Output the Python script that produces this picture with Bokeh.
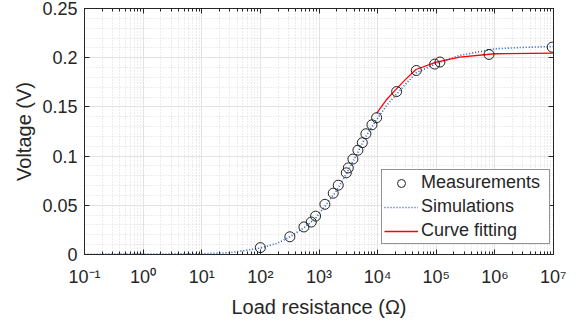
from bokeh.plotting import figure
from bokeh.models import FixedTicker, LogAxis, LinearAxis, Legend, LegendItem
from bokeh.embed import file_html
from bokeh.resources import INLINE

# Measurements
meas_R = [100, 318, 553, 738, 875, 1260, 1750, 2130, 2920, 3160, 3790, 4610,
          5480, 6310, 8000, 9620, 21100, 45600, 94000, 115600, 794000, 9.5e6]
meas_V = [0.007, 0.018, 0.028, 0.033, 0.039, 0.051, 0.0623, 0.0704, 0.083, 0.088,
          0.097, 0.106, 0.1136, 0.1227, 0.1318, 0.139, 0.1656, 0.187, 0.1935,
          0.1956, 0.2033, 0.2107]

# Simulations
sim_R = [0.1, 1, 10, 30, 60, 100, 200, 320, 550, 875, 1260, 2000, 3000, 4600,
         6300, 9600, 14000, 21000, 45000, 1e5, 2.5e5, 1e6, 3e6, 1e7]
sim_V = [0.0003, 0.0004, 0.0008, 0.0018, 0.0045, 0.0065, 0.0117, 0.018, 0.027,
         0.037, 0.049, 0.065, 0.083, 0.104, 0.12, 0.137, 0.151, 0.163, 0.1845,
         0.194, 0.2023, 0.209, 0.2105, 0.2114]

# Curve fitting
fit_R = [9600, 14000, 20000, 30000, 45000, 1e5, 2.5e5, 1e6, 1e7]
fit_V = [0.1433, 0.157, 0.167, 0.178, 0.188, 0.1956, 0.2006, 0.204, 0.2047]

x_ticks = [1e-1, 1e0, 1e1, 1e2, 1e3, 1e4, 1e5, 1e6, 1e7]
x_tick_labels = ["10\u207b\u00b9", "10\u2070", "10\u00b9", "10\u00b2", "10\u00b3",
                 "10\u2074", "10\u2075", "10\u2076", "10\u2077"]
y_ticks = [0, 0.05, 0.1, 0.15, 0.2, 0.25]
y_tick_labels = ["0", "0.05", "0.1", "0.15", "0.2", "0.25"]

TXT = "#262626"
FONT = "Liberation Sans"

x_minor = []
for k in range(-1, 7):
    for m in range(2, 10):
        x_minor.append(m * 10.0 ** k)
y_minor = [i * 0.01 for i in range(0, 26)]

p = figure(width=566, height=320, x_axis_type="log", x_range=(0.1, 1e7),
           y_range=(0, 0.25), output_backend="svg", toolbar_location=None,
           min_border_left=84, min_border_right=13, min_border_top=8,
           min_border_bottom=65)
p.background_fill_color = "white"
p.outline_line_color = TXT
p.outline_line_width = 1

xt = FixedTicker(ticks=x_ticks, minor_ticks=x_minor)
yt = FixedTicker(ticks=y_ticks, minor_ticks=y_minor)
p.xaxis.ticker = xt
p.yaxis.ticker = yt
p.xaxis.major_label_overrides = {t: l for t, l in zip(x_ticks, x_tick_labels)}
p.yaxis.major_label_overrides = {t: l for t, l in zip(y_ticks, y_tick_labels)}

for ax in [p.xaxis[0], p.yaxis[0]]:
    ax.axis_line_color = TXT
    ax.major_tick_line_color = TXT
    ax.minor_tick_line_color = TXT
    ax.major_tick_in = 5
    ax.major_tick_out = 0
    ax.minor_tick_in = 3
    ax.minor_tick_out = 0
    ax.major_label_text_font = FONT
    ax.major_label_text_font_size = "18px"
    ax.major_label_text_color = TXT
    ax.axis_label_text_font = FONT
    ax.axis_label_text_font_size = "20px"
    ax.axis_label_text_color = TXT
    ax.axis_label_text_font_style = "normal"
p.yaxis.minor_tick_line_color = None
p.xaxis.axis_label = "Load resistance (\u03a9)"
p.yaxis.axis_label = "Voltage (V)"
p.xaxis.major_label_standoff = 12
p.yaxis.major_label_standoff = 7
p.xaxis.axis_label_standoff = 6
p.yaxis.axis_label_standoff = 4

top = LogAxis(ticker=xt, major_label_text_font_size="1px",
              major_label_text_color=None, major_tick_in=5,
              major_tick_out=0, minor_tick_in=3, minor_tick_out=0,
              axis_line_color=TXT, major_tick_line_color=TXT,
              minor_tick_line_color=TXT, major_label_standoff=0)
right = LinearAxis(ticker=yt, major_label_text_font_size="1px",
                   major_label_text_color=None, major_tick_in=5,
                   major_tick_out=0, minor_tick_line_color=None,
                   axis_line_color=TXT, major_tick_line_color=TXT,
                   major_label_standoff=0)
p.add_layout(top, "above")
p.add_layout(right, "right")

p.xgrid.ticker = xt
p.ygrid.ticker = yt
p.xgrid.grid_line_color = "#e3e3e3"
p.ygrid.grid_line_color = "#e3e3e3"
p.xgrid.minor_grid_line_color = "#dadada"
p.ygrid.minor_grid_line_color = "#dadada"
p.xgrid.minor_grid_line_dash = "1 2"
p.ygrid.minor_grid_line_dash = "1 2"

r_sim = p.line(sim_R, sim_V, line_color="#2a5cc4", line_width=1.6, line_dash="1 2")
r_fit = p.line(fit_R, fit_V, line_color="#ff0000", line_width=1.3)
r_meas = p.scatter(meas_R, meas_V, marker="circle", size=10, fill_color=None,
                   line_color="#222222", line_width=1)

legend = Legend(items=[LegendItem(label="Measurements", renderers=[r_meas]),
                       LegendItem(label="Simulations", renderers=[r_sim]),
                       LegendItem(label="Curve fitting", renderers=[r_fit])],
                location=(297, 10), label_text_font=FONT,
                label_text_font_size="18px", label_text_color=TXT,
                border_line_color=TXT, border_line_width=1,
                background_fill_color="white", background_fill_alpha=1,
                glyph_width=34, glyph_height=20, label_height=20,
                label_width=126, spacing=3, padding=2, margin=0,
                label_standoff=3)
p.add_layout(legend, "center")

open("out.html", "w").write(file_html(p, INLINE))
